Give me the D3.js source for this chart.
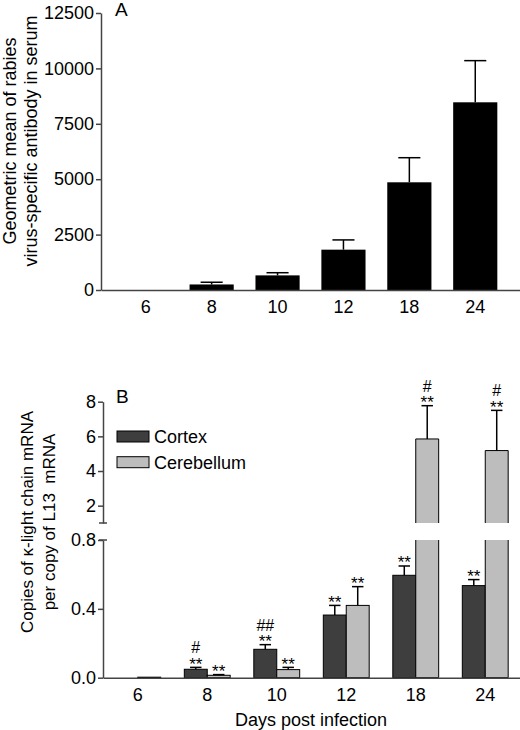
<!DOCTYPE html>
<html>
<head>
<meta charset="utf-8">
<script src="https://cdn.jsdelivr.net/npm/d3@7"></script>
<style>
  body { margin: 0; background: #fff; }
  svg text { font-family: "Liberation Sans", Arial, sans-serif; fill: #000; }
</style>
</head>
<body>
<svg id="drawing_region"></svg>
<script>
// ---- data ----
const days = ["6", "8", "10", "12", "18", "24"];

// panel A: serum antibody (geometric mean, upper error)
const antibodyMean = [0, 250, 660, 1820, 4860, 8470];
const antibodyErr  = [0, 100, 120, 440, 1110, 1880];
const antibodyTicks = [0, 2500, 5000, 7500, 10000, 12500];

// panel B: kappa light chain mRNA per copy of L13 mRNA
const seriesNames = ["Cortex", "Cerebellum"];
const cortexMean = [0, 0.049, 0.165, 0.364, 0.595, 0.535];
const cortexErr  = [0, 0.011, 0.027, 0.056, 0.054, 0.035];
const cerebMean  = [0.003, 0.014, 0.047, 0.42, 5.85, 5.18];
const cerebErr   = [0, 0.004, 0.013, 0.109, 1.92, 2.32];
const cortexStars = ["", "**", "**", "**", "**", "**"];
const cortexHash  = ["", "#", "##", "", "", ""];
const cerebStars  = ["", "**", "**", "**", "**", "**"];
const cerebHash   = ["", "", "", "", "#", "#"];
const lowTicks  = [0, 0.4, 0.8];
const highTicks = [2, 4, 6, 8];

const colors = { Cortex: "#3e3e3e", Cerebellum: "#bdbdbd" };
const axisColor = "#444";

const svg = d3.select("#drawing_region")
    .attr("width", 520)
    .attr("height", 730);

function styleAxis(g) {
    g.select(".domain").attr("stroke", axisColor).attr("stroke-width", 1.5);
    g.selectAll(".tick line").attr("stroke", axisColor).attr("stroke-width", 1.5);
    g.selectAll(".tick text").attr("font-size", 18).attr("fill", "#000");
}

// ================= Panel A =================
const xA = d3.scaleBand().domain(days).range([101, 520])
    .paddingInner(0.33).paddingOuter(0.344);
const yA = d3.scaleLinear().domain([0, 12500]).range([290, 13]);

const gA = svg.append("g");
const rowsA = days.map((d, i) => ({ day: d, v: antibodyMean[i], e: antibodyErr[i] }));

gA.selectAll("rect.barA")
    .data(rowsA)
    .join("rect")
    .attr("class", "barA")
    .attr("x", d => xA(d.day))
    .attr("width", xA.bandwidth())
    .attr("y", d => yA(d.v))
    .attr("height", d => yA(0) - yA(d.v))
    .attr("fill", "#000");

const errA = gA.selectAll("g.errA")
    .data(rowsA.filter(d => d.e > 0))
    .join("g").attr("class", "errA");
errA.append("line")
    .attr("x1", d => xA(d.day) + xA.bandwidth() / 2)
    .attr("x2", d => xA(d.day) + xA.bandwidth() / 2)
    .attr("y1", d => yA(d.v))
    .attr("y2", d => yA(d.v + d.e))
    .attr("stroke", "#000").attr("stroke-width", 1.5);
errA.append("line")
    .attr("x1", d => xA(d.day) + xA.bandwidth() / 4)
    .attr("x2", d => xA(d.day) + xA.bandwidth() * 3 / 4)
    .attr("y1", d => yA(d.v + d.e))
    .attr("y2", d => yA(d.v + d.e))
    .attr("stroke", "#000").attr("stroke-width", 1.5);

gA.append("g")
    .attr("transform", "translate(101,0)")
    .call(d3.axisLeft(yA).tickValues(antibodyTicks).tickFormat(d3.format("d"))
        .tickSize(5).tickSizeOuter(0).tickPadding(2))
    .call(styleAxis);

gA.append("g")
    .attr("transform", "translate(0,290)")
    .call(d3.axisBottom(xA).tickSize(0).tickSizeOuter(0).tickPadding(10))
    .call(styleAxis);

gA.append("text").attr("x", 115).attr("y", 16).attr("font-size", 19).text("A");

const labA = gA.append("text")
    .attr("transform", "translate(0,141) rotate(-90)")
    .attr("text-anchor", "middle")
    .attr("font-size", 18);
labA.append("tspan").attr("x", 0).attr("y", 15.5).text("Geometric mean of rabies");
labA.append("tspan").attr("x", 0).attr("y", 37).text("virus-specific antibody in serum");

// ================= Panel B =================
const xB = d3.scaleBand().domain(days).range([103, 520])
    .paddingInner(0.34).paddingOuter(0.17);
const xSub = d3.scaleBand().domain(seriesNames).range([0, xB.bandwidth()]);
const yLow  = d3.scaleLinear().domain([0, 0.8]).range([677.7, 540]);
const yHigh = d3.scaleLinear().domain([1, 8]).range([523, 401.7]);
const yB = v => v <= 0.8 ? yLow(v) : yHigh(v);

const rowsB = [];
days.forEach((d, i) => {
    rowsB.push({ day: d, s: "Cortex", v: cortexMean[i], e: cortexErr[i], star: cortexStars[i], hash: cortexHash[i] });
    rowsB.push({ day: d, s: "Cerebellum", v: cerebMean[i], e: cerebErr[i], star: cerebStars[i], hash: cerebHash[i] });
});

const gB = svg.append("g");
const bx = d => xB(d.day) + xSub(d.s);
const bw = xSub.bandwidth();

// ordinary bars
gB.selectAll("rect.barB")
    .data(rowsB.filter(d => d.v <= 0.8))
    .join("rect")
    .attr("class", "barB")
    .attr("x", bx)
    .attr("width", bw)
    .attr("y", d => yLow(d.v))
    .attr("height", d => yLow(0) - yLow(d.v))
    .attr("fill", d => colors[d.s])
    .attr("stroke", "#000").attr("stroke-width", 1);

// bars running through the axis break: open at the break
const tall = rowsB.filter(d => d.v > 0.8);
gB.selectAll("path.lowPart")
    .data(tall)
    .join("path")
    .attr("d", d => `M${bx(d)},${yLow(0.8)}V${yLow(0)}H${bx(d) + bw}V${yLow(0.8)}`)
    .attr("fill", d => colors[d.s])
    .attr("stroke", "#000").attr("stroke-width", 1);
gB.selectAll("path.highPart")
    .data(tall)
    .join("path")
    .attr("d", d => `M${bx(d)},${yHigh(1)}V${yHigh(d.v)}H${bx(d) + bw}V${yHigh(1)}`)
    .attr("fill", d => colors[d.s])
    .attr("stroke", "#000").attr("stroke-width", 1);

// error bars
const errB = gB.selectAll("g.errB")
    .data(rowsB.filter(d => d.e > 0))
    .join("g").attr("class", "errB");
errB.append("line")
    .attr("x1", d => bx(d) + bw / 2)
    .attr("x2", d => bx(d) + bw / 2)
    .attr("y1", d => yB(d.v))
    .attr("y2", d => yB(d.v + d.e))
    .attr("stroke", "#000").attr("stroke-width", 1.5);
errB.append("line")
    .attr("x1", d => bx(d) + bw / 4)
    .attr("x2", d => bx(d) + bw * 3 / 4)
    .attr("y1", d => yB(d.v + d.e))
    .attr("y2", d => yB(d.v + d.e))
    .attr("stroke", "#000").attr("stroke-width", 1.5);

// significance marks
gB.selectAll("text.star")
    .data(rowsB.filter(d => d.star))
    .join("text")
    .attr("class", "star")
    .attr("x", d => bx(d) + bw / 2)
    .attr("y", d => yB(d.v + d.e) + 2.5)
    .attr("text-anchor", "middle")
    .attr("font-size", 17)
    .text(d => d.star);
gB.selectAll("text.hash")
    .data(rowsB.filter(d => d.hash))
    .join("text")
    .attr("class", "hash")
    .attr("x", d => bx(d) + bw / 2)
    .attr("y", d => yB(d.v + d.e) - 14)
    .attr("text-anchor", "middle")
    .attr("font-size", 16)
    .text(d => d.hash);

// axes
gB.append("g")
    .attr("transform", "translate(103,0)")
    .call(d3.axisLeft(yLow).tickValues(lowTicks).tickFormat(d3.format(".1f"))
        .tickSize(5).tickSizeOuter(0).tickPadding(2))
    .call(styleAxis);
gB.append("g")
    .attr("transform", "translate(103,0)")
    .call(d3.axisLeft(yHigh).tickValues(highTicks).tickFormat(d3.format("d"))
        .tickSize(5).tickSizeOuter(0).tickPadding(2))
    .call(styleAxis);
// break caps
gB.selectAll("line.cap")
    .data([yHigh(1), yLow(0.8)])
    .join("line")
    .attr("x1", 99).attr("x2", 107)
    .attr("y1", d => d).attr("y2", d => d)
    .attr("stroke", axisColor).attr("stroke-width", 1.5);

gB.append("g")
    .attr("transform", `translate(0,${yLow(0)})`)
    .call(d3.axisBottom(xB).tickSize(0).tickSizeOuter(0).tickPadding(11))
    .call(styleAxis);

gB.append("text").attr("x", 116).attr("y", 403).attr("font-size", 19).text("B");

gB.append("text")
    .attr("x", 311).attr("y", 726)
    .attr("text-anchor", "middle")
    .attr("font-size", 18)
    .text("Days post infection");

const labB = gB.append("text")
    .attr("transform", "translate(0,522) rotate(-90)")
    .attr("text-anchor", "middle")
    .attr("font-size", 17);
labB.append("tspan").attr("x", 0).attr("y", 32.5).text("Copies of \u03ba-light chain mRNA");
labB.append("tspan").attr("x", 0).attr("y", 55).text("per copy of L13  mRNA").attr("xml:space", "preserve");

// legend
const legend = gB.selectAll("g.legend")
    .data(seriesNames)
    .join("g")
    .attr("class", "legend")
    .attr("transform", (d, i) => `translate(117,${431 + i * 25.7})`);
legend.append("rect")
    .attr("width", 32).attr("height", 11)
    .attr("fill", d => colors[d])
    .attr("stroke", "#000").attr("stroke-width", 1);
legend.append("text")
    .attr("x", 37).attr("y", 12)
    .attr("font-size", 18)
    .text(d => d);
</script>
</body>
</html>
